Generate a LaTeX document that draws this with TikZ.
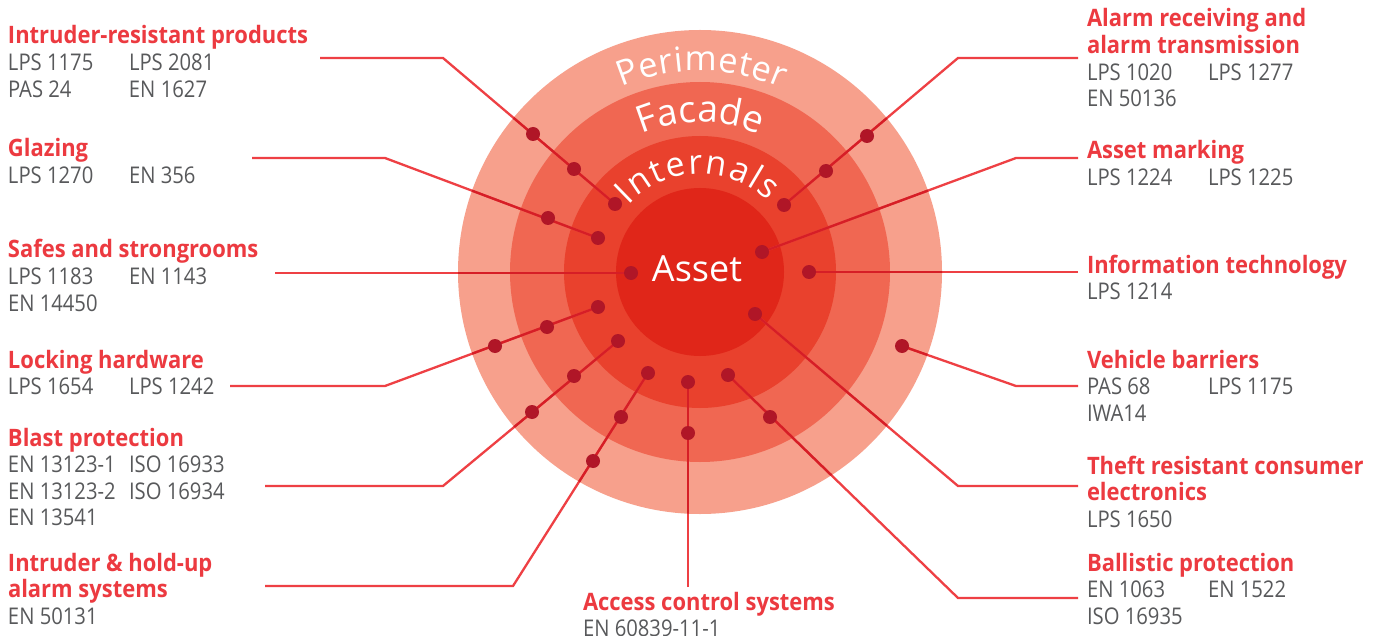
\documentclass[tikz,border=0pt]{standalone}
\usepackage{fontspec}
\setmainfont{Open Sans}
\newfontfamily\stdfam[FakeStretch=0.88]{Open Sans}
\newfontfamily\ttlfam[FakeStretch=0.915]{Open Sans}
\usetikzlibrary{decorations.text,calc}
\definecolor{ringA}{HTML}{F7A08C}
\definecolor{ringB}{HTML}{F06752}
\definecolor{ringC}{HTML}{E9412D}
\definecolor{ringD}{HTML}{E02619}
\definecolor{dotc}{HTML}{B01627}
\definecolor{linec}{HTML}{EE4044}
\definecolor{linein}{HTML}{D61E26}
\definecolor{ttlc}{HTML}{EC3A40}
\definecolor{stdc}{HTML}{58595B}
\newcommand\ttl[1]{\hbox{\ttlfam\bfseries\fontsize{24}{26.6}\selectfont\color{ttlc}#1}}
\newcommand\stdl[1]{\hbox{\stdfam\fontsize{23}{26.6}\selectfont\color{stdc}#1}}
\newcommand\two[2]{\hbox{\stdfam\fontsize{23}{26.6}\selectfont\color{stdc}\makebox[121pt][l]{#1}#2}}
\newcommand\grp[1]{\vtop{\baselineskip=26.6pt\lineskiplimit=-100pt\lineskip=0pt #1}}
\newcommand\ringfnt{\fontsize{34.5}{40}\selectfont\color{white}}
\newcommand\facfnt{\fontsize{37}{40}\selectfont\color{white}}
\newcommand\intfnt{\fontsize{34}{40}\selectfont\color{white}}
\begin{document}
\begin{tikzpicture}[x=1pt,y=-1pt,
  lab/.style={inner sep=0pt,outer sep=0pt,anchor=base west},
  dotn/.style={circle,fill=dotc,inner sep=0pt,minimum size=14pt},
  conn/.style={draw=linec,line width=2.3pt,line join=miter},
  connin/.style={draw=linein,line width=2.3pt,line join=miter}]
\useasboundingbox (0,0) rectangle (1380,636);
\fill[white] (0,0) rectangle (1380,636);
\coordinate (C) at (700,272);
% rings
\fill[ringA] (C) circle[radius=242pt];
\fill[ringB] (C) circle[radius=190pt];
\fill[ringC] (C) circle[radius=136pt];
\fill[ringD] (C) circle[radius=84pt];
\node[inner sep=0pt,anchor=base,text=white,font=\fontsize{36}{40}\selectfont] (asset) at (697,281) {Asset};
% ring labels
\path[decorate,decoration={text along path,text={|\ringfnt|Perimeter},text align=fit to path}]
  ($(C)+(113:201pt)$) arc[start angle=113,end angle=66,radius=201pt];
\path[decorate,decoration={text along path,text={|\facfnt|Facade},text align=fit to path}]
  ($(C)+(113:150pt)$) arc[start angle=113,end angle=68,radius=150pt];
\path[decorate,decoration={text along path,text={|\intfnt|Internals},text align=fit to path}]
  ($(C)+(137:98pt)$) arc[start angle=137,end angle=46,radius=98pt];
% coordinates
\coordinate (a1) at (320,58); \coordinate (b1) at (443,58);
\coordinate (d1a) at (533,134); \coordinate (d1b) at (574,169); \coordinate (d1c) at (615,204);
\coordinate (a2) at (252,158); \coordinate (b2) at (385,158);
\coordinate (d2a) at (548,218); \coordinate (d2b) at (598,238);
\coordinate (a3) at (275,273); \coordinate (d3) at (631,273);
\coordinate (a4) at (230,386); \coordinate (b4) at (385,386);
\coordinate (d4a) at (495,346); \coordinate (d4b) at (547,327); \coordinate (d4c) at (598,307);
\coordinate (a5) at (265,486); \coordinate (b5) at (443,486);
\coordinate (d5a) at (532,412); \coordinate (d5b) at (574,376); \coordinate (d5c) at (618,341);
\coordinate (a6) at (265,586); \coordinate (b6) at (513,586);
\coordinate (d6a) at (593,461); \coordinate (d6b) at (621,417); \coordinate (d6c) at (648,373);
\coordinate (a7) at (688,587); \coordinate (d7a) at (688,433); \coordinate (d7b) at (688,382);
\coordinate (a8) at (1078,58); \coordinate (b8) at (958,58);
\coordinate (d8a) at (867,136); \coordinate (d8b) at (826,171); \coordinate (d8c) at (784,205);
\coordinate (a9) at (1078,158); \coordinate (b9) at (1016,158); \coordinate (d9) at (762,252);
\coordinate (a10) at (1078,272); \coordinate (d10) at (809,272);
\coordinate (a11) at (1078,386); \coordinate (b11) at (1016,386); \coordinate (d11) at (902,346);
\coordinate (a12) at (1078,486); \coordinate (b12) at (958,486); \coordinate (d12) at (755,314);
\coordinate (a13) at (1078,598); \coordinate (b13) at (958,598);
\coordinate (d13a) at (770,417); \coordinate (d13b) at (728,375);
% connectors
\newcommand\allconn[1]{%
\path[#1] (a1) -- (b1) -- (d1c);
\path[#1] (a2) -- (b2) -- (d2b);
\path[#1] (a3) -- (d3);
\path[#1] (a4) -- (b4) -- (d4c);
\path[#1] (a5) -- (b5) -- (d5c);
\path[#1] (a6) -- (b6) -- (d6c);
\path[#1] (a7) -- (d7b);
\path[#1] (a8) -- (b8) -- (d8c);
\path[#1] (a9) -- (b9) -- (d9);
\path[#1] (a10) -- (d10);
\path[#1] (a11) -- (b11) -- (d11);
\path[#1] (a12) -- (b12) -- (d12);
\path[#1] (a13) -- (b13) -- (d13b);}
\allconn{conn}
\begin{scope}
\clip (C) circle[radius=242pt];
\allconn{connin}
\end{scope}
% dots
\foreach \d in {d1a,d1b,d1c,d2a,d2b,d3,d4a,d4b,d4c,d5a,d5b,d5c,d6a,d6b,d6c,d7a,d7b,d8a,d8b,d8c,d9,d10,d11,d12,d13a,d13b}
  \node[dotn] (n\d) at (\d) {};
% labels
\node[lab] (l1) at (8,44) {\grp{\ttl{Intruder-resistant products}\two{LPS 1175}{LPS 2081}\two{PAS 24}{EN 1627}}};
\node[lab] (l2) at (8,157) {\grp{\ttl{Glazing}\two{LPS 1270}{EN 356}}};
\node[lab] (l3) at (8,258) {\grp{\ttl{Safes and strongrooms}\two{LPS 1183}{EN 1143}\stdl{EN 14450}}};
\node[lab] (l4) at (8,368) {\grp{\ttl{Locking hardware}\two{LPS 1654}{LPS 1242}}};
\node[lab] (l5) at (8,446) {\grp{\ttl{Blast protection}\two{EN 13123-1}{ISO 16933}\two{EN 13123-2}{ISO 16934}\stdl{EN 13541}}};
\node[lab] (l6) at (8,571) {\grp{\ttl{Intruder \& hold-up}\ttl{alarm systems}\stdl{EN 50131}}};
\node[lab] (l7) at (583,610) {\grp{\ttl{Access control systems}\stdl{EN 60839-11-1}}};
\node[lab] (l8) at (1087,27) {\grp{\ttl{Alarm receiving and}\ttl{alarm transmission}\two{LPS 1020}{LPS 1277}\stdl{EN 50136}}};
\node[lab] (l9) at (1087,159) {\grp{\ttl{Asset marking}\two{LPS 1224}{LPS 1225}}};
\node[lab] (l10) at (1087,273) {\grp{\ttl{Information technology}\stdl{LPS 1214}}};
\node[lab] (l11) at (1087,368) {\grp{\ttl{Vehicle barriers}\two{PAS 68}{LPS 1175}\stdl{IWA14}}};
\node[lab] (l12) at (1087,474) {\grp{\ttl{Theft resistant consumer}\ttl{electronics}\stdl{LPS 1650}}};
\node[lab] (l13) at (1087,571) {\grp{\ttl{Ballistic protection}\two{EN 1063}{EN 1522}\stdl{ISO 16935}}};
\end{tikzpicture}
\end{document}
